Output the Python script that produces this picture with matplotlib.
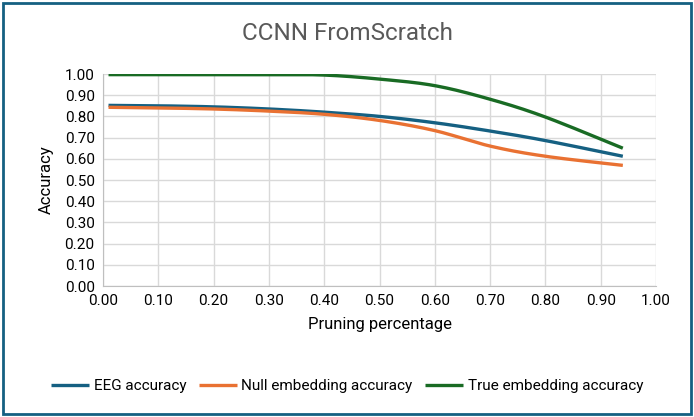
import numpy as np
import matplotlib.pyplot as plt
from matplotlib.patches import Rectangle

plt.rcParams['font.family'] = ['Roboto', 'DejaVu Sans']

pruning = [0.01, 0.1, 0.2, 0.3, 0.4, 0.5, 0.6, 0.7, 0.8, 0.94]
eeg_acc = [0.852, 0.850, 0.845, 0.835, 0.820, 0.800, 0.770, 0.731, 0.686, 0.612]
null_acc = [0.843, 0.840, 0.835, 0.825, 0.810, 0.781, 0.733, 0.660, 0.612, 0.569]
true_acc = [0.997, 0.997, 0.997, 0.997, 0.995, 0.976, 0.945, 0.881, 0.797, 0.650]

series = [
    ("EEG accuracy", eeg_acc, "#156082"),
    ("Null embedding accuracy", null_acc, "#E97132"),
    ("True embedding accuracy", true_acc, "#196B24"),
]


def smooth(x, y, n=30):
    # excel-ish smoothed line: cubic bezier through points, catmull-rom tangents
    x = np.asarray(x, float)
    y = np.asarray(y, float)
    px = np.concatenate([[x[0]], x, [x[-1]]])
    py = np.concatenate([[y[0]], y, [y[-1]]])
    t = np.linspace(0, 1, n)
    xs, ys = [], []
    for i in range(len(x) - 1):
        p0 = np.array([x[i], y[i]])
        p3 = np.array([x[i + 1], y[i + 1]])
        p1 = p0 + (np.array([px[i + 2], py[i + 2]]) - np.array([px[i], py[i]])) / 6
        p2 = p3 - (np.array([px[i + 3], py[i + 3]]) - np.array([px[i + 1], py[i + 1]])) / 6
        b = ((1 - t) ** 3)[:, None] * p0 + (3 * (1 - t) ** 2 * t)[:, None] * p1 \
            + (3 * (1 - t) * t ** 2)[:, None] * p2 + (t ** 3)[:, None] * p3
        xs.append(b[:, 0])
        ys.append(b[:, 1])
    return np.concatenate(xs), np.concatenate(ys)


fig = plt.figure(figsize=(6.94, 4.17), dpi=100)
ax = fig.add_axes([103 / 694, 1 - 286 / 417, 553 / 694, 212 / 417])

for name, vals, col in series:
    sx, sy = smooth(pruning, vals)
    ax.plot(sx, sy, color=col, lw=2.4, label=name, solid_capstyle='butt')

ax.set_xlim(0, 1)
ax.set_ylim(0, 1)
ax.set_xticks(np.arange(0, 1.01, 0.1))
ax.set_yticks(np.arange(0, 1.01, 0.1))
ax.xaxis.set_major_formatter(plt.FuncFormatter(lambda v, p: f"{v:.2f}"))
ax.yaxis.set_major_formatter(plt.FuncFormatter(lambda v, p: f"{v:.2f}"))
ax.grid(True, color="#D9D9D9", lw=1)
ax.set_axisbelow(True)
for s in ["top", "right"]:
    ax.spines[s].set_visible(False)
for s in ["left", "bottom"]:
    ax.spines[s].set_color("#BFBFBF")
ax.tick_params(length=0, labelsize=11, colors="#000000", pad=6)

ax.set_xlabel("Pruning percentage", fontsize=12, labelpad=6)
ax.set_ylabel("Accuracy", fontsize=12, labelpad=8)
fig.text(0.5, 1 - 34 / 417, "CCNN FromScratch", ha="center", va="center",
         fontsize=17.5, color="#595959")

fig.legend(loc="center", bbox_to_anchor=(0.5, 1 - 386 / 417), ncol=3,
           frameon=False, fontsize=11, handlelength=2.5, columnspacing=0.8,
           handletextpad=0.3)

fig.patches.append(Rectangle((3 / 694, 3 / 417), 688 / 694, 411 / 417,
                             transform=fig.transFigure, fill=False,
                             edgecolor="#156082", lw=2))

fig.savefig("out.png", dpi=100)
